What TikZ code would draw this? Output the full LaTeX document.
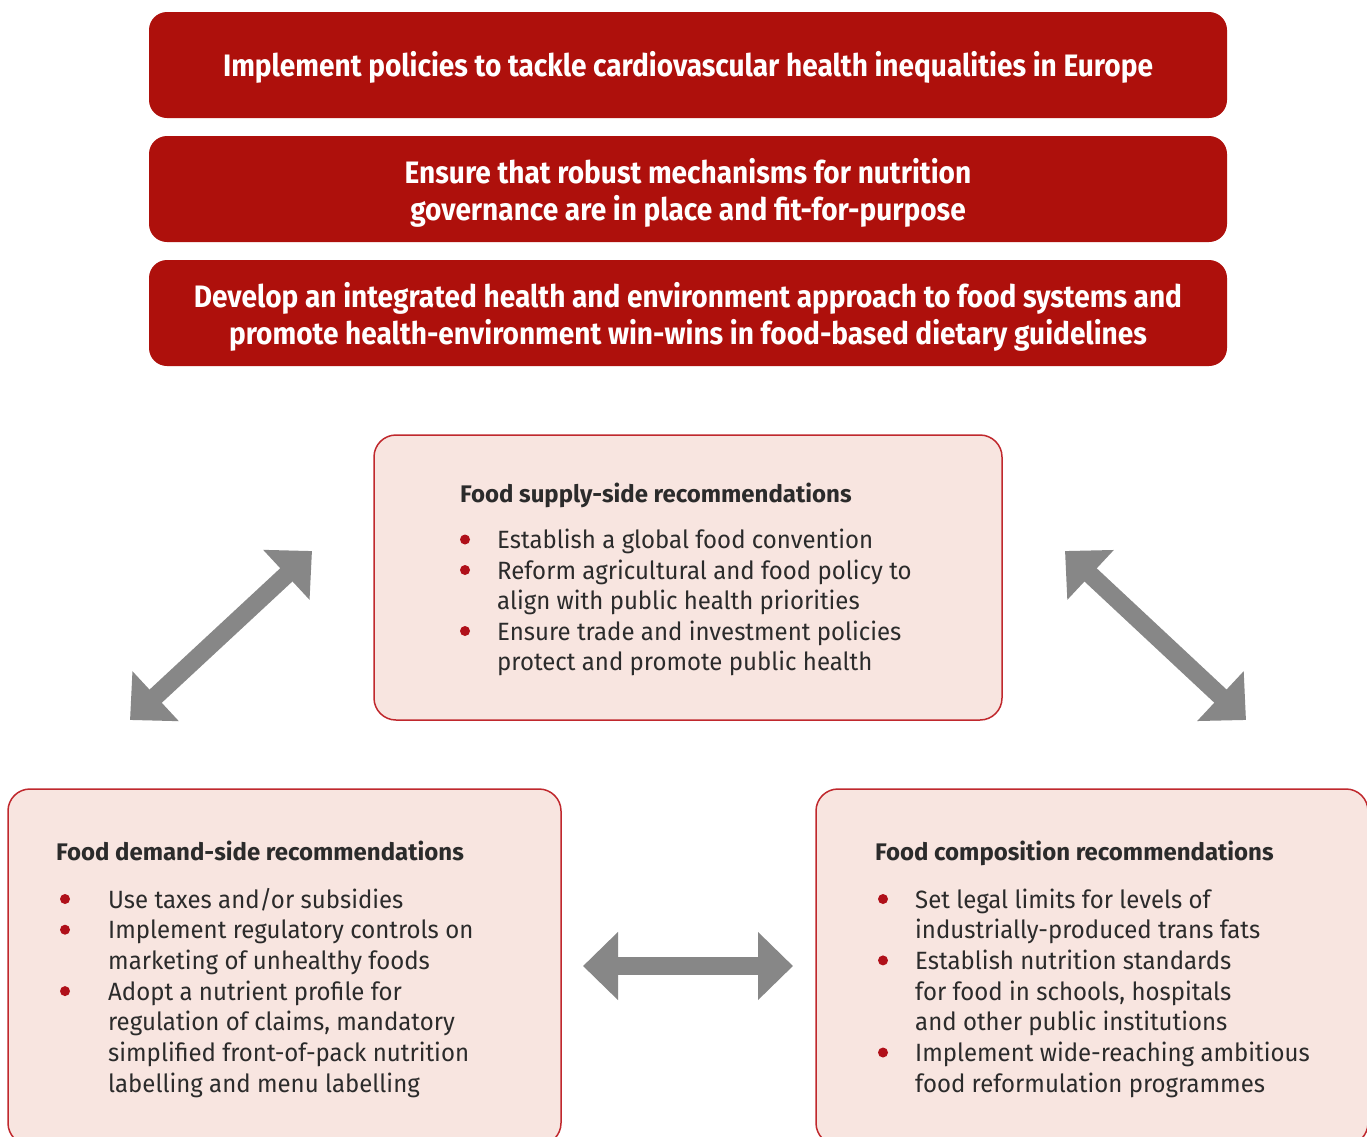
\documentclass[tikz,border=0pt]{standalone}
\usepackage{fontspec}
\setmainfont{Fira Sans}[FakeStretch=0.96]
\newfontfamily\whitehead{Fira Sans}[FakeStretch=0.905]
\newfontfamily\darkhead{Fira Sans}[FakeStretch=1.0]
\usetikzlibrary{arrows.meta}
\definecolor{boxred}{HTML}{AE100C}
\definecolor{lightpink}{HTML}{F8E5E0}
\definecolor{borderred}{HTML}{C0282D}
\definecolor{bulred}{HTML}{B0101A}
\definecolor{textdark}{HTML}{2B2B2B}
\definecolor{arrowgray}{HTML}{878787}
\begin{document}
\begin{tikzpicture}[x=1pt,y=-1pt,
  redbox/.style={fill=boxred, rounded corners=18pt, inner sep=0pt, minimum width=1078pt, minimum height=106pt},
  redtext/.style={text=white, font=\whitehead\fontsize{31}{37}\selectfont\bfseries, align=center, inner sep=0pt},
  lightbox/.style={fill=lightpink, draw=borderred, line width=1.5pt, rounded corners=22pt, inner sep=0pt},
  headtext/.style={anchor=base west, inner sep=0pt, font=\darkhead\fontsize{24}{30}\selectfont\bfseries, text=textdark},
  bodytext/.style={anchor=base west, inner sep=0pt, font=\fontsize{25}{30}\selectfont, text=textdark},
  bul/.style={circle, fill=bulred, inner sep=0pt, minimum size=10pt},
  twoarrow/.style={draw=arrowgray, line width=18pt, {Triangle[length=35pt,width=66pt]}-{Triangle[length=35pt,width=66pt]}}
]
\useasboundingbox (0,0) rectangle (1367,1136);
\clip (0,0) rectangle (1367,1136);
\fill[white] (0,0) rectangle (1367,1136);

% top red boxes
\node[redbox] (b1) at (688,65) {};
\node[redbox] (b2) at (688,189) {};
\node[redbox] (b3) at (688,313) {};
\node[redtext] (t1) at (688,67.5) {Implement policies to tackle cardiovascular health inequalities in Europe};
\node[redtext] (t2) at (688,192.5) {Ensure that robust mechanisms for nutrition\\governance are in place and fit-for-purpose};
\node[redtext] (t3) at (688,316.5) {Develop an integrated health and environment approach to food systems and\\promote health-environment win-wins in food-based dietary guidelines};

% light boxes
\node[lightbox, minimum width=628pt, minimum height=285pt] (sup) at (688,577.5) {};
\node[lightbox, minimum width=553pt, minimum height=356pt] (dem) at (284.5,967) {};
\node[lightbox, minimum width=552pt, minimum height=356pt] (com) at (1092,967) {};

% supply text
\node[headtext] (sh) at (460,502) {Food supply-side recommendations};
\node[bodytext] (s1) at (497,548.5) {Establish a global food convention};
\node[bodytext] (s2) at (497,579) {Reform agricultural and food policy to};
\node[bodytext] (s3) at (497,609.5) {align with public health priorities};
\node[bodytext] (s4) at (497,640) {Ensure trade and investment policies};
\node[bodytext] (s5) at (497,670.5) {protect and promote public health};
\node[bul] (sb1) at (465,539.5) {};
\node[bul] (sb2) at (465,570) {};
\node[bul] (sb3) at (465,631) {};

% demand text
\node[headtext] (dh) at (56,860.5) {Food demand-side recommendations};
\node[bodytext] (d1) at (108,908) {Use taxes and/or subsidies};
\node[bodytext] (d2) at (108,938.7) {Implement regulatory controls on};
\node[bodytext] (d3) at (108,969.4) {marketing of unhealthy foods};
\node[bodytext] (d4) at (108,1000.1) {Adopt a nutrient profile for};
\node[bodytext] (d5) at (108,1030.8) {regulation of claims, mandatory};
\node[bodytext] (d6) at (108,1061.5) {simplified front-of-pack nutrition};
\node[bodytext] (d7) at (108,1092.2) {labelling and menu labelling};
\node[bul] (db1) at (65,899) {};
\node[bul] (db2) at (65,929.7) {};
\node[bul] (db3) at (65,991.1) {};

% composition text
\node[headtext] (ch) at (875,860.5) {Food composition recommendations};
\node[bodytext] (c1) at (915,908) {Set legal limits for levels of};
\node[bodytext] (c2) at (915,938.7) {industrially-produced trans fats};
\node[bodytext] (c3) at (915,969.4) {Establish nutrition standards};
\node[bodytext] (c4) at (915,1000.1) {for food in schools, hospitals};
\node[bodytext] (c5) at (915,1030.8) {and other public institutions};
\node[bodytext] (c6) at (915,1061.5) {Implement wide-reaching ambitious};
\node[bodytext] (c7) at (915,1092.2) {food reformulation programmes};
\node[bul] (cb1) at (883,899) {};
\node[bul] (cb2) at (883,960.4) {};
\node[bul] (cb3) at (883,1052.5) {};

% arrows
\coordinate (la) at (130,720);
\coordinate (lb) at (312,551);
\coordinate (ra) at (1065,551);
\coordinate (rb) at (1246,720);
\coordinate (ha) at (583,966);
\coordinate (hb) at (793,966);
\draw[twoarrow] (la) -- (lb);
\draw[twoarrow] (ra) -- (rb);
\draw[twoarrow] (ha) -- (hb);
\end{tikzpicture}
\end{document}
